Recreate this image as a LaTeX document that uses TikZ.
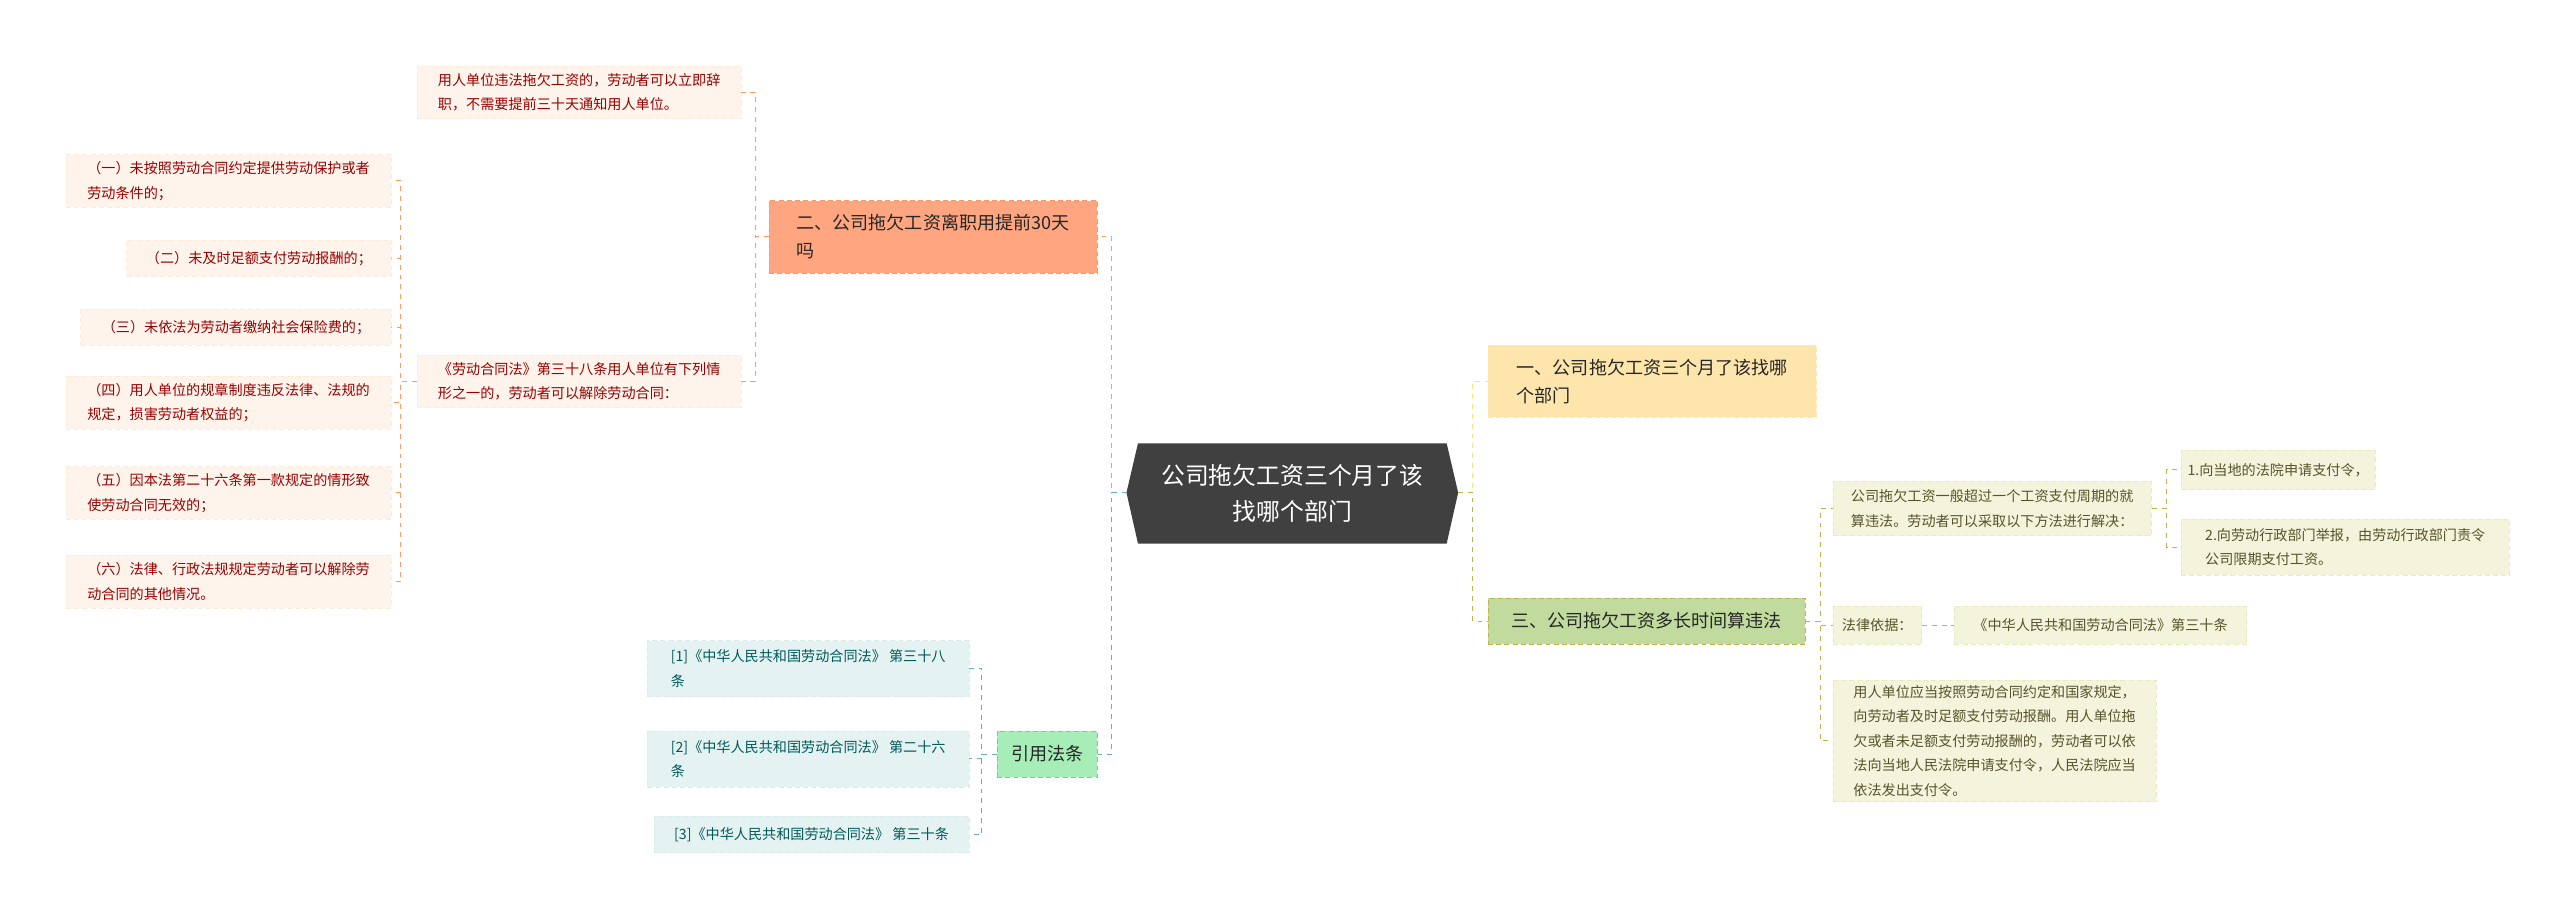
\documentclass[tikz,border=0pt]{standalone}
\usepackage{fontspec}
\setmainfont{Noto Sans CJK SC}
\begin{document}
\begin{tikzpicture}[x=1pt,y=-1pt,
  box/.style={anchor=north west,inner xsep=4pt,inner ysep=3pt,align=left,font=\fontsize{8.6}{15}\selectfont,densely dashed,line width=0.4pt},
  redbox/.style={box,fill=red!5!orange!8,draw=red!10!orange!15,text=red!60!black},
  grnbox/.style={box,fill=olive!10,draw=olive!18,text=olive!50!black},
  tealbox/.style={box,fill=teal!10,draw=teal!15,text=teal!70!black},
  branch/.style={anchor=north west,inner xsep=5pt,inner ysep=4pt,align=left,font=\fontsize{11}{17}\selectfont,densely dashed,text=black!85},
  rl/.style={draw=orange!70!red!60,dashed,line width=0.6pt},
  gl/.style={draw=olive!60,dashed,line width=0.6pt},
  tl/.style={draw=teal!60,dashed,line width=0.6pt},
  yl/.style={draw=yellow!60!orange!50,dashed,line width=0.6pt}]
\useasboundingbox (0,0) rectangle (1559,557);
% centre
\fill[black!75] (693,270) -- (881,270) -- (888,300) -- (881,331) -- (693,331) -- (686,300) -- cycle;
\node[text=white,align=center,font=\fontsize{14.5}{22}\selectfont] (c) at (787,300.5) {公司拖欠工资三个月了该\\找哪个部门};
\coordinate (cL) at (686,300); \coordinate (cR) at (888,300);
% branches
\node[branch,fill=orange!60!red!50,draw=orange!60!red!60,minimum width=200pt,minimum height=44pt] (b2) at (468,122) {二、公司拖欠工资离职用提前30天\\吗};
\node[branch,fill=yellow!40!orange!30,draw=yellow!50!orange!30,minimum width=200pt,minimum height=44pt] (b1) at (906,210) {一、公司拖欠工资三个月了该找哪\\个部门};
\node[branch,fill=olive!45!green!35!white,draw=olive!60,minimum width=193pt,minimum height=28pt,inner ysep=2pt] (b3) at (906,364) {三、公司拖欠工资多长时间算违法};
\node[branch,fill=teal!40!green!35!white,draw=teal!50,minimum width=61pt,minimum height=28pt,inner ysep=2pt] (bq) at (607,445) {引用法条};
% left
\node[redbox,minimum width=197pt,minimum height=32pt] (a1) at (254,40) {用人单位违法拖欠工资的，劳动者可以立即辞\\职，不需要提前三十天通知用人单位。};
\node[redbox,minimum width=197pt,minimum height=32pt] (a2) at (254,216) {《劳动合同法》第三十八条用人单位有下列情\\形之一的，劳动者可以解除劳动合同：};
\node[redbox,minimum width=198pt,minimum height=32pt] (l1) at (40,94) {（一）未按照劳动合同约定提供劳动保护或者\\劳动条件的；};
\node[redbox,minimum width=161pt,minimum height=22pt] (l2) at (77,146) {（二）未及时足额支付劳动报酬的；};
\node[redbox,minimum width=189pt,minimum height=22pt] (l3) at (49,188) {（三）未依法为劳动者缴纳社会保险费的；};
\node[redbox,minimum width=198pt,minimum height=32pt] (l4) at (40,229) {（四）用人单位的规章制度违反法律、法规的\\规定，损害劳动者权益的；};
\node[redbox,minimum width=198pt,minimum height=32pt] (l5) at (40,284) {（五）因本法第二十六条第一款规定的情形致\\使劳动合同无效的；};
\node[redbox,minimum width=198pt,minimum height=32pt] (l6) at (40,338) {（六）法律、行政法规规定劳动者可以解除劳\\动合同的其他情况。};
% right
\node[grnbox,minimum width=194pt,minimum height=33pt] (g1) at (1116,293) {公司拖欠工资一般超过一个工资支付周期的就\\算违法。劳动者可以采取以下方法进行解决：};
\node[grnbox,minimum width=116pt,minimum height=24pt] (h1) at (1328,274) {1.向当地的法院申请支付令，};
\node[grnbox,minimum width=200pt,minimum height=34pt] (h2) at (1328,316) {2.向劳动行政部门举报，由劳动行政部门责令\\公司限期支付工资。};
\node[grnbox,minimum width=54pt,minimum height=23pt] (g2) at (1116,369) {法律依据：};
\node[grnbox,minimum width=178pt,minimum height=23pt] (g3) at (1190,369) {《中华人民共和国劳动合同法》第三十条};
\node[grnbox,minimum width=197pt,minimum height=67pt] (g4) at (1116,414) {用人单位应当按照劳动合同约定和国家规定，\\向劳动者及时足额支付劳动报酬。用人单位拖\\欠或者未足额支付劳动报酬的，劳动者可以依\\法向当地人民法院申请支付令，人民法院应当\\依法发出支付令。};
% refs
\node[tealbox,minimum width=196pt,minimum height=34pt] (r1) at (394,390) {[1]《中华人民共和国劳动合同法》 第三十八\\条};
\node[tealbox,minimum width=196pt,minimum height=34pt] (r2) at (394,445) {[2]《中华人民共和国劳动合同法》 第二十六\\条};
\node[tealbox,minimum width=192pt,minimum height=22pt] (r3) at (398,497) {[3]《中华人民共和国劳动合同法》 第三十条};
% connectors
\draw[rl] (cL) -- ++(-9,0) |- (b2.east);
\draw[tl] (cL) -- ++(-9,0) |- (bq.east);
\draw[yl] (cR) -- ++(9,0) |- (b1.west);
\draw[gl] (cR) -- ++(9,0) |- (b3.west);
\draw[rl] (b2.west) -- ++(-8,0) |- (a1.east);
\draw[rl] (b2.west) -- ++(-8,0) |- (a2.east);
\foreach \n in {l1,l2,l3,l4,l5,l6}{\draw[rl] (a2.west) -- ++(-10,0) |- (\n.east);}
\foreach \n in {g1,g2,g4}{\draw[gl] (b3.east) -- ++(9,0) |- (\n.west);}
\foreach \n in {h1,h2}{\draw[gl] (g1.east) -- ++(9,0) |- (\n.west);}
\draw[gl] (g2.east) -- (g3.west);
\foreach \n in {r1,r2,r3}{\draw[tl] (bq.west) -- ++(-9,0) |- (\n.east);}
\end{tikzpicture}
\end{document}
